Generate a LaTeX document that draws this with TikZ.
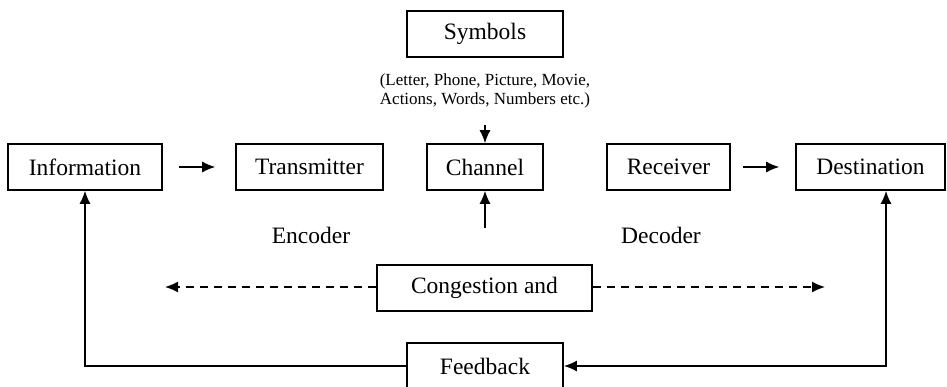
\documentclass[tikz,border=0pt]{standalone}
\usepackage{fontspec}
\setmainfont{Liberation Serif}
\usetikzlibrary{arrows.meta}
\begin{document}
\begin{tikzpicture}[x=1pt,y=-1pt,
  box/.style={draw,line width=1.6pt,minimum height=46pt,inner sep=0pt,font=\fontsize{23.5}{26}\selectfont},
  lbl/.style={font=\fontsize{23.5}{26}\selectfont},
  tip/.style={-{Latex[length=13pt,width=11pt]}},
  conn/.style={line width=1.4pt,tip},
  fbline/.style={line width=1.3pt},
  dashline/.style={line width=1.4pt,dash pattern=on 8pt off 6pt,tip}]
\useasboundingbox (0,0) rectangle (947,386);
\node[box,minimum width=156pt] (sym) at (485,34) {Symbols};
\node[align=center,font=\fontsize{17}{19.5}\selectfont] (note) at (485,91) {(Letter, Phone, Picture, Movie,\\Actions, Words, Numbers etc.)};
\coordinate (symin) at (485,125);
\node[box,minimum width=154pt] (info) at (85,167) {Information};
\node[box,minimum width=147pt] (trans) at (309.5,167) {Transmitter};
\node[box,minimum width=116pt] (chan) at (485,167) {Channel};
\node[box,minimum width=123pt] (recv) at (668.5,167) {Receiver};
\node[box,minimum width=149pt] (dest) at (870.5,167) {Destination};
\node[lbl] (enc) at (311,235) {Encoder};
\node[lbl] (dec) at (661,235) {Decoder};
\coordinate (chanin) at (485,228);
\node[box,minimum width=215pt] (cong) at (484.5,288) {Congestion and};
\coordinate (dl) at (165,287);
\coordinate (dr) at (825,287);
\node[box,minimum width=156pt] (fb) at (485,366) {Feedback};
\coordinate (fl) at (85,366);
\coordinate (fr) at (886,366);
\draw[conn,shorten <=16pt,shorten >=20pt] (info) -- (trans);
\draw[conn,shorten <=12pt,shorten >=16pt] (recv) -- (dest);
\draw[conn] (symin) -- (chan.north);
\draw[conn] (chanin) -- (chan.south);
\draw[dashline] (cong.west |- dl) -- (dl);
\draw[dashline] (cong.east |- dr) -- (dr);
\draw[fbline,tip] (fb.west) -- (fl) -- (info.south);
\draw[line width=1.8pt,{Latex[length=13pt,width=11pt]}-{Latex[length=13pt,width=11pt]}] (dest.south -| fr) -- (fr) -- (fb.east);
\end{tikzpicture}
\end{document}
